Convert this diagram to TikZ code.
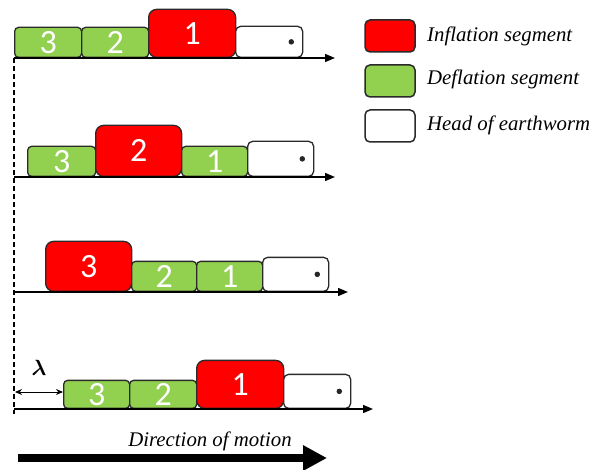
\documentclass[tikz,border=0pt]{standalone}
\usepackage{bm}
\usepackage{fontspec}
\setmainfont{Liberation Serif}
\newfontfamily\numfont{Carlito}
\usetikzlibrary{arrows.meta}
\definecolor{segred}{HTML}{FF0000}
\definecolor{seggreen}{HTML}{92D050}
\definecolor{edge}{HTML}{2A2A2A}
\tikzset{
  seg/.style={draw=edge, line width=1.3pt, inner sep=0pt, anchor=south west,
    text=white, font=\numfont\fontsize{34}{34}\selectfont},
  defl/.style={seg, fill=seggreen, rounded corners=4pt},
  infl/.style={seg, fill=segred, rounded corners=8pt},
  head/.style={seg, fill=white, rounded corners=5pt},
  dotmark/.style={circle, fill=black!85, inner sep=0pt, minimum size=5.5pt},
  axis/.style={line width=1.4pt, -{Triangle[length=10pt,width=8pt]}},
  legbox/.style={draw=edge, line width=1.5pt, rounded corners=5pt, minimum width=50pt, minimum height=32pt, inner sep=0pt},
  legtext/.style={anchor=west, inner sep=0pt, font=\itshape\fontsize{20.8}{21}\selectfont},
  lamarrow/.style={line width=1pt, {Stealth[length=7pt,width=6pt]}-{Stealth[length=7pt,width=6pt]}},
}
\begin{document}
\begin{tikzpicture}[x=1pt,y=-1pt]
\useasboundingbox (0,0) rectangle (591,470);
% Row 1
\node[defl, minimum width=67pt, minimum height=30pt] (r1a) at (14,58) {3};
\node[defl, minimum width=67pt, minimum height=30pt] (r1b) at (81,58) {2};
\node[infl, minimum width=87pt, minimum height=48pt] (r1c) at (148,58) {1};
\node[head, minimum width=67pt, minimum height=31pt] (r1d) at (235,58) {};
\node[dotmark] (r1dot) at ([xshift=-12pt]r1d.east) {};
\coordinate (ax1s) at (14,58); \coordinate (ax1e) at (335,58);
\draw[axis] (ax1s) -- (ax1e);
% Row 2
\node[defl, minimum width=68pt, minimum height=30pt] (r2a) at (27,177) {3};
\node[infl, minimum width=86pt, minimum height=51pt] (r2b) at (95,177) {2};
\node[defl, minimum width=66pt, minimum height=30pt] (r2c) at (181,177) {1};
\node[head, minimum width=66pt, minimum height=35pt] (r2d) at (247,177) {};
\node[dotmark] (r2dot) at ([xshift=-12pt]r2d.east) {};
\coordinate (ax2s) at (14,177); \coordinate (ax2e) at (335,177);
\draw[axis] (ax2s) -- (ax2e);
% Row 3
\node[infl, minimum width=86pt, minimum height=50pt] (r3a) at (45,292) {3};
\node[defl, minimum width=65pt, minimum height=30pt] (r3b) at (131,292) {2};
\node[defl, minimum width=66pt, minimum height=30pt] (r3c) at (196,292) {1};
\node[head, minimum width=66pt, minimum height=34pt] (r3d) at (262,292) {};
\node[dotmark] (r3dot) at ([xshift=-12pt]r3d.east) {};
\coordinate (ax3s) at (14,292); \coordinate (ax3e) at (348,292);
\draw[axis] (ax3s) -- (ax3e);
% Row 4
\node[defl, minimum width=66pt, minimum height=28pt] (r4a) at (63,409) {3};
\node[defl, minimum width=67pt, minimum height=28pt] (r4b) at (129,409) {2};
\node[infl, minimum width=87pt, minimum height=48pt] (r4c) at (196,409) {1};
\node[head, minimum width=67pt, minimum height=34pt] (r4d) at (283,409) {};
\node[dotmark] (r4dot) at ([xshift=-12pt]r4d.east) {};
\coordinate (ax4s) at (14,409); \coordinate (ax4e) at (373,409);
\draw[axis] (ax4s) -- (ax4e);
% dashed reference line
\coordinate (dtop) at (14,58); \coordinate (dbot) at (14,414);
\draw[line width=1.1pt, dash pattern=on 5pt off 3pt] (dtop) -- (dbot);
% lambda
\coordinate (lam1) at (15,392);
\coordinate (lam2) at (63,392);
\draw[lamarrow] (lam1) -- (lam2);
\node[inner sep=0pt, scale=2.2] (lamlab) at (39,368) {$\bm{\lambda}$};
% direction of motion
\node[inner sep=0pt, font=\itshape\fontsize{20.8}{21}\selectfont] (dirtext) at (210,441) {Direction of motion};
\coordinate (bigs) at (18,458); \coordinate (bige) at (327,458);
\draw[line width=8pt, -{Triangle[length=24pt,width=24pt]}] (bigs) -- (bige);
% legend
\node[legbox, fill=segred] (lred) at (390,36) {};
\node[legbox, fill=seggreen] (lgreen) at (390,81) {};
\node[legbox, fill=white] (lwhite) at (390,126) {};
\node[legtext] (tred) at (427,36) {Inflation segment};
\node[legtext] (tgreen) at (427,79) {Deflation segment};
\node[legtext] (twhite) at (427,125) {Head of earthworm};
\end{tikzpicture}
\end{document}
